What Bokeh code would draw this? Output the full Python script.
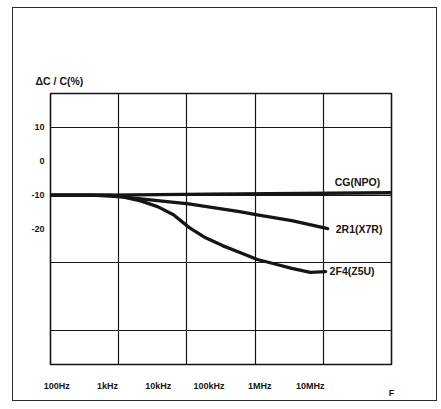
import numpy as np
from bokeh.plotting import figure
from bokeh.models import FixedTicker, Label
from bokeh.embed import file_html
from bokeh.resources import INLINE

# ---- data ----
freq_ticks = [100, 1000, 10000, 100000, 1000000, 10000000]
freq_tick_labels = ["100Hz", "1kHz", "10kHz", "100kHz", "1MHz", "10MHz"]

y_ticks = [10, 0, -10, -20]
y_tick_labels = ["10", "0", "-10", "-20"]

series_names = ["CG(NPO)", "2R1(X7R)", "2F4(Z5U)"]

cg_freq = [80, 1000, 100000, 3.9e8]
cg_dc = [-10.0, -10.0, -9.7, -9.3]

x7r_freq = [80, 500, 2000, 4500, 40000, 400000, 900000, 4.3e6, 2.2e7]
x7r_dc = [-10.0, -10.0, -10.5, -11.1, -12.6, -14.9, -15.8, -17.5, -19.9]

z5u_freq = [80, 1100, 2000, 4500, 9700, 20000, 41000, 86000, 185000,
            420000, 900000, 2.1e6, 4.3e6, 1.0e7, 2.0e7]
z5u_dc = [-10.0, -10.0, -10.5, -11.7, -13.4, -15.8, -19.6, -22.6, -24.9,
          -27.0, -29.0, -30.4, -31.6, -32.8, -32.6]

y_label = "\u0394C / C(%)"
x_label = "F"

# ---- layout ----
LOG_LO, LOG_HI = 1.876, 8.6
F_LO, F_HI = 10 ** LOG_LO, 10 ** LOG_HI
Y_LO, Y_HI = -60, 20

FONT = "Liberation Sans"
INK = "#151515"

p = figure(width=423, height=392, x_axis_type="log",
           x_range=(F_LO, F_HI), y_range=(Y_LO, Y_HI),
           output_backend="svg", toolbar_location=None,
           min_border_left=37, min_border_right=45,
           min_border_top=85, min_border_bottom=34,
           title=y_label)
p.styles = {"margin-left": "13px", "margin-top": "8px",
            "outline": "1.6px solid #2a2a2a", "outline-offset": "0px"}

p.background_fill_color = "white"
p.border_fill_color = "white"
p.outline_line_color = INK
p.outline_line_width = 1.6

p.title.align = "left"
p.title.offset = -15
p.title.standoff = 13
p.title.text_font = FONT
p.title.text_font_size = "10.5px"
p.title.text_font_style = "bold"
p.title.text_color = INK

# grid: the frame is divided into equal columns; rows every 20 %
grid_x = [10 ** (LOG_LO + i * (LOG_HI - LOG_LO) / 5) for i in range(1, 5)]
p.xgrid.ticker = FixedTicker(ticks=grid_x)
p.ygrid.ticker = FixedTicker(ticks=[10, -10, -30, -50])
for g in (p.xgrid, p.ygrid):
    g.grid_line_color = INK
    g.grid_line_width = 1.2
    g.grid_line_alpha = 1.0

for ax in (p.xaxis[0], p.yaxis[0]):
    ax.axis_line_color = None
    ax.major_tick_line_color = None
    ax.minor_tick_line_color = None
    ax.major_tick_out = 0
    ax.minor_tick_out = 0
    ax.major_tick_in = 0
    ax.minor_tick_in = 0
    ax.major_label_text_font = FONT
    ax.major_label_text_font_size = "9px"
    ax.major_label_text_font_style = "bold"
    ax.major_label_text_color = INK

xa = p.xaxis[0]
xa.ticker = FixedTicker(ticks=freq_ticks)
xa.major_label_overrides = {int(t): l for t, l in zip(freq_ticks, freq_tick_labels)}
xa.major_label_standoff = 16
xa.axis_label = x_label
xa.axis_label_align = "end"
xa.axis_label_standoff = -6
xa.axis_label_text_font = FONT
xa.axis_label_text_font_size = "9px"
xa.axis_label_text_font_style = "bold"
xa.axis_label_text_color = INK

ya = p.yaxis[0]
ya.ticker = FixedTicker(ticks=y_ticks)
ya.major_label_overrides = {int(t): l for t, l in zip(y_ticks, y_tick_labels)}
ya.major_label_standoff = 6

for fx, fy in ((cg_freq, cg_dc), (x7r_freq, x7r_dc), (z5u_freq, z5u_dc)):
    p.line(fx, fy, line_width=3.3, line_color=INK, line_join="round", line_cap="round")

def lab(**kw):
    base = dict(text_font=FONT, text_font_style="bold", text_color=INK,
                text_font_size="10.5px", text_baseline="middle", text_align="left")
    base.update(kw)
    p.add_layout(Label(**base))

lab(x=x7r_freq[-1], y=cg_dc[-1], text=series_names[0], x_offset=7, y_offset=11)
lab(x=x7r_freq[-1], y=x7r_dc[-1], text=series_names[1], x_offset=8)
lab(x=z5u_freq[-1], y=z5u_dc[-1], text=series_names[2], x_offset=4, y_offset=1)

open("out.html", "w").write(file_html(p, INLINE))
